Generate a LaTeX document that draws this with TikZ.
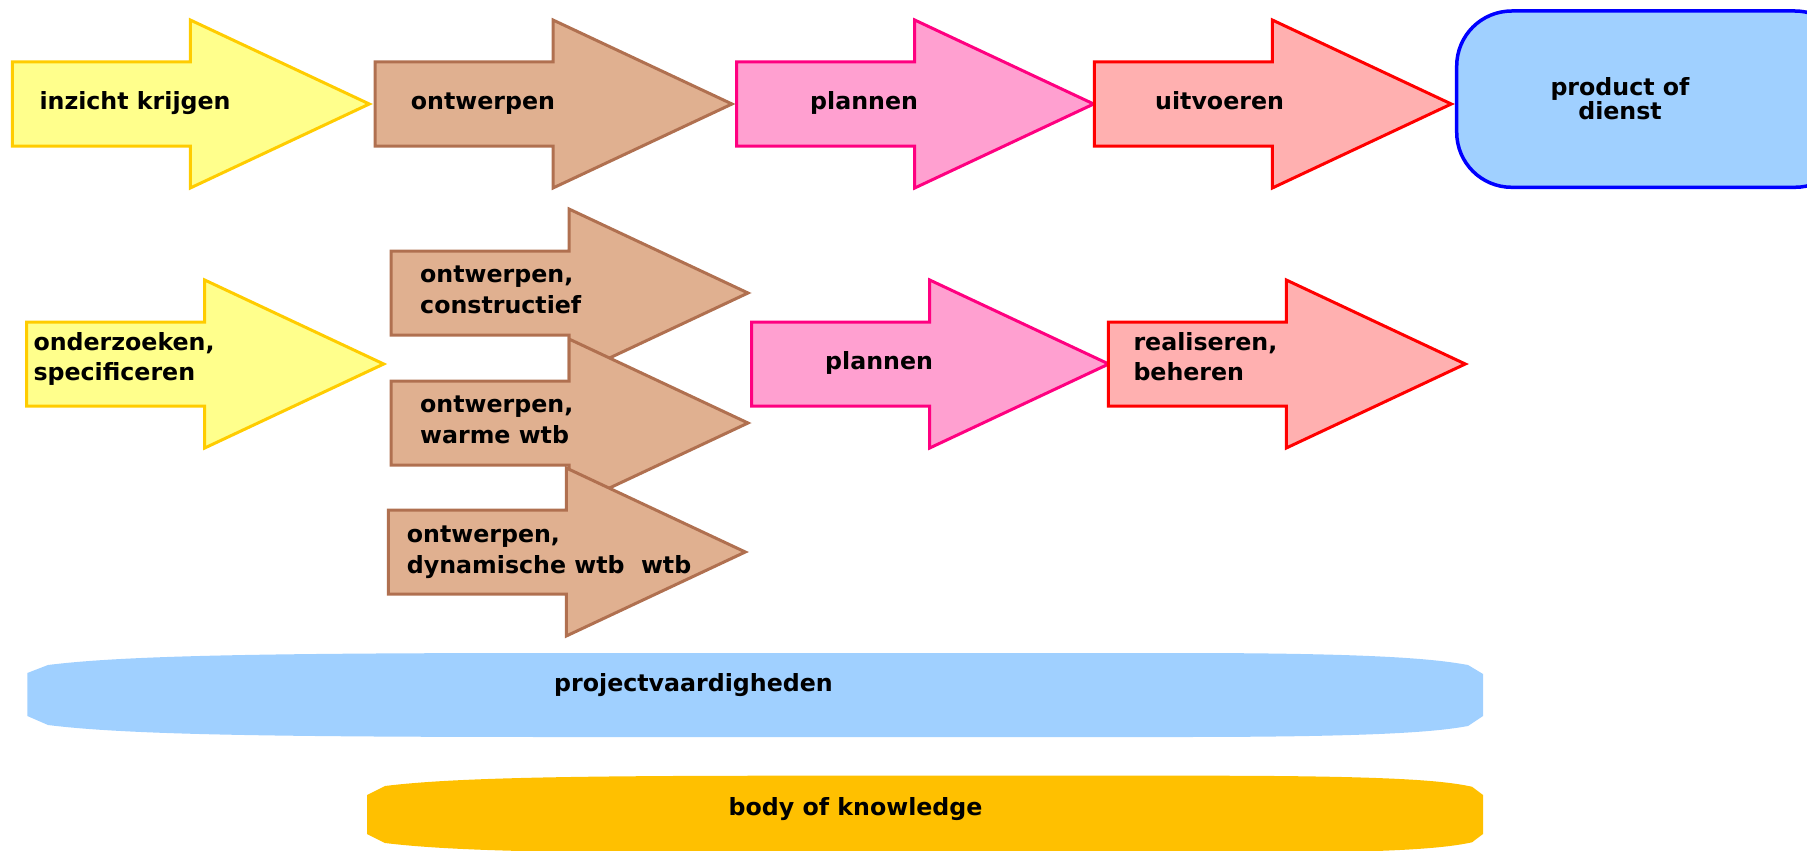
\documentclass[tikz,border=0pt]{standalone}
\usepackage{fontspec}
\setmainfont{DejaVu Sans}
\usepackage{tikz}

\definecolor{yellowfill}{RGB}{255,255,140}
\definecolor{yellowline}{RGB}{255,204,0}
\definecolor{brownfill}{RGB}{224,176,144}
\definecolor{brownline}{RGB}{176,112,80}
\definecolor{pinkfill}{RGB}{255,160,208}
\definecolor{pinkline}{RGB}{255,0,128}
\definecolor{redfill}{RGB}{255,176,176}
\definecolor{redline}{RGB}{255,0,0}
\definecolor{bluefill}{RGB}{160,208,255}
\definecolor{blueline}{RGB}{0,0,255}
\definecolor{amberfill}{RGB}{255,192,0}

\tikzset{
  stage/.style={line width=3pt, line join=miter},
  yellowstage/.style={stage, draw=yellowline, fill=yellowfill},
  brownstage/.style={stage, draw=brownline, fill=brownfill},
  pinkstage/.style={stage, draw=pinkline, fill=pinkfill},
  redstage/.style={stage, draw=redline, fill=redfill},
  lbl/.style={anchor=base west, inner sep=0pt, align=left,
    font=\fontsize{23.7}{30.7}\selectfont\bfseries},
}

% big block arrow: style, left x, centre y
\newcommand{\stagearrow}[3]{%
  \draw[#1] (#2,#3-42) -- ++(178,0) -- ++(0,-42) -- ++(179,84)
    -- ++(-179,84) -- ++(0,-42) -- ++(-178,0) -- cycle;}

\begin{document}
\begin{tikzpicture}[x=1pt, y=-1pt]
  \useasboundingbox (0,0) rectangle (1807,851);
  \clip (0,0) rectangle (1807,851);

  % Top row
  \stagearrow{yellowstage}{12.3}{104}
  \stagearrow{brownstage}{375}{104}
  \stagearrow{pinkstage}{736.7}{104}
  \stagearrow{redstage}{1094.3}{104}
  \draw[line width=3.5pt, draw=blueline, fill=bluefill, rounded corners=55pt]
    (1456.7,11) rectangle (1850,187.3);

  \node[lbl] (inzicht) at (39.3,110) {inzicht krijgen};
  \node[lbl] (ontwerpen) at (410.7,110) {ontwerpen};
  \node[lbl] (plannen) at (810,110) {plannen};
  \node[lbl] (uitvoeren) at (1155,110) {uitvoeren};
  % base of a two-line node is the second line
  \node[anchor=base, inner sep=0pt, align=center,
    font=\fontsize{23.7}{24.3}\selectfont\bfseries] (product) at (1620,119.3)
    {product of\\dienst};

  % Second row
  \stagearrow{yellowstage}{26.7}{364}
  \stagearrow{brownstage}{391}{293}
  \stagearrow{brownstage}{391}{423}
  \stagearrow{brownstage}{388.3}{552}
  \stagearrow{pinkstage}{751.7}{364}
  \stagearrow{redstage}{1108.3}{364}

  \node[lbl] (onderzoeken) at (33.3,380.7) {onderzoeken,\\specificeren};
  \node[lbl] (constructief) at (420,313.4) {ontwerpen,\\constructief};
  \node[lbl] (warme) at (420,443.4) {ontwerpen,\\warme wtb};
  \node[lbl] (dynamische) at (406.7,573.4) {ontwerpen,\\dynamische wtb\ \ wtb};
  \node[lbl] (plannen2) at (825,369) {plannen};
  \node[lbl] (realiseren) at (1133.3,380.7) {realiseren,\\beheren};

  % Bars
  \fill[bluefill] (27.3,673) -- (27.3,716) -- (48,725)
    .. controls (120,734) and (250,737) .. (560,737) -- (1180,737)
    .. controls (1390,737) and (1440,731) .. (1468,726) -- (1483,716)
    -- (1483,674) -- (1468,665)
    .. controls (1440,660) and (1390,653) .. (1180,653) -- (560,653)
    .. controls (250,653) and (120,656) .. (48,665) -- cycle;
  \fill[amberfill] (367,795) -- (367,834) -- (385,843)
    .. controls (450,851) and (560,853.3) .. (800,853.3) -- (1200,853.3)
    .. controls (1400,853.3) and (1445,848) .. (1472,842.3) -- (1483,834)
    -- (1483,795) -- (1472,786.7)
    .. controls (1445,781) and (1400,775.7) .. (1200,775.7) -- (800,775.7)
    .. controls (560,775.7) and (450,778) .. (385,786) -- cycle;

  \node[lbl] (project) at (554,691) {projectvaardigheden};
  \node[lbl] (knowledge) at (728.5,815) {body of knowledge};
\end{tikzpicture}
\end{document}
